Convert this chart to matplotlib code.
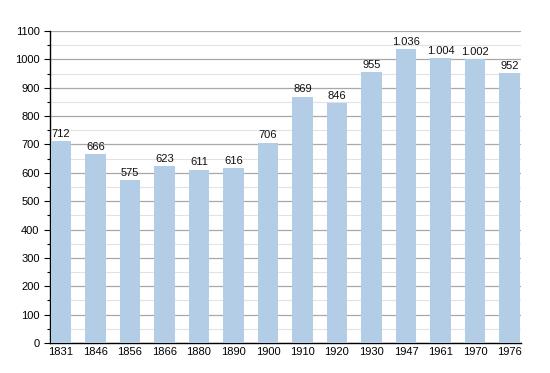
import matplotlib
matplotlib.use("Agg")
import matplotlib.pyplot as plt
from matplotlib.ticker import MultipleLocator

years = ["1831", "1846", "1856", "1866", "1880", "1890", "1900", "1910", "1920",
         "1930", "1947", "1961", "1970", "1976"]
population = [712, 666, 575, 623, 611, 616, 706, 869, 846, 955, 1036, 1004, 1002, 952]
value_labels = ["712", "666", "575", "623", "611", "616", "706", "869", "846",
                "955", "1.036", "1.004", "1.002", "952"]

plt.rcParams['font.family'] = ['Liberation Sans', 'DejaVu Sans']

fig = plt.figure(figsize=(5.5, 3.73), dpi=100)
ax = fig.add_axes([0.0909, 0.0804, 0.856, 0.8365])

x = list(range(len(years)))
ax.bar(x, population, width=0.6, color="#b3cde6", zorder=3)
for xi, v, lab in zip(x, population, value_labels):
    ax.text(xi, v + 8, lab, ha="center", va="bottom", fontsize=8, color="#111111", zorder=4)

ax.set_xlim(-0.32, len(years) - 1 + 0.33)
ax.set_ylim(0, 1100)
ax.set_xticks(x)
ax.set_xticklabels(years, fontsize=8)
ax.yaxis.set_major_locator(MultipleLocator(100))
ax.yaxis.set_minor_locator(MultipleLocator(50))
ax.tick_params(axis="y", which="major", labelsize=8, length=4, width=0.8, direction="out")
ax.tick_params(axis="y", which="minor", length=2, width=0.8)
ax.tick_params(axis="x", length=0, pad=3)
ax.grid(axis="y", which="major", color="#a8a8a8", linewidth=0.9, zorder=0)
ax.grid(axis="y", which="minor", color="#e2e2e2", linewidth=0.8, zorder=0)
ax.set_axisbelow(True)
for s in ["top", "right"]:
    ax.spines[s].set_visible(False)
ax.spines["left"].set_linewidth(1.0)
ax.spines["bottom"].set_linewidth(1.0)

fig.savefig("out.png", dpi=100)
